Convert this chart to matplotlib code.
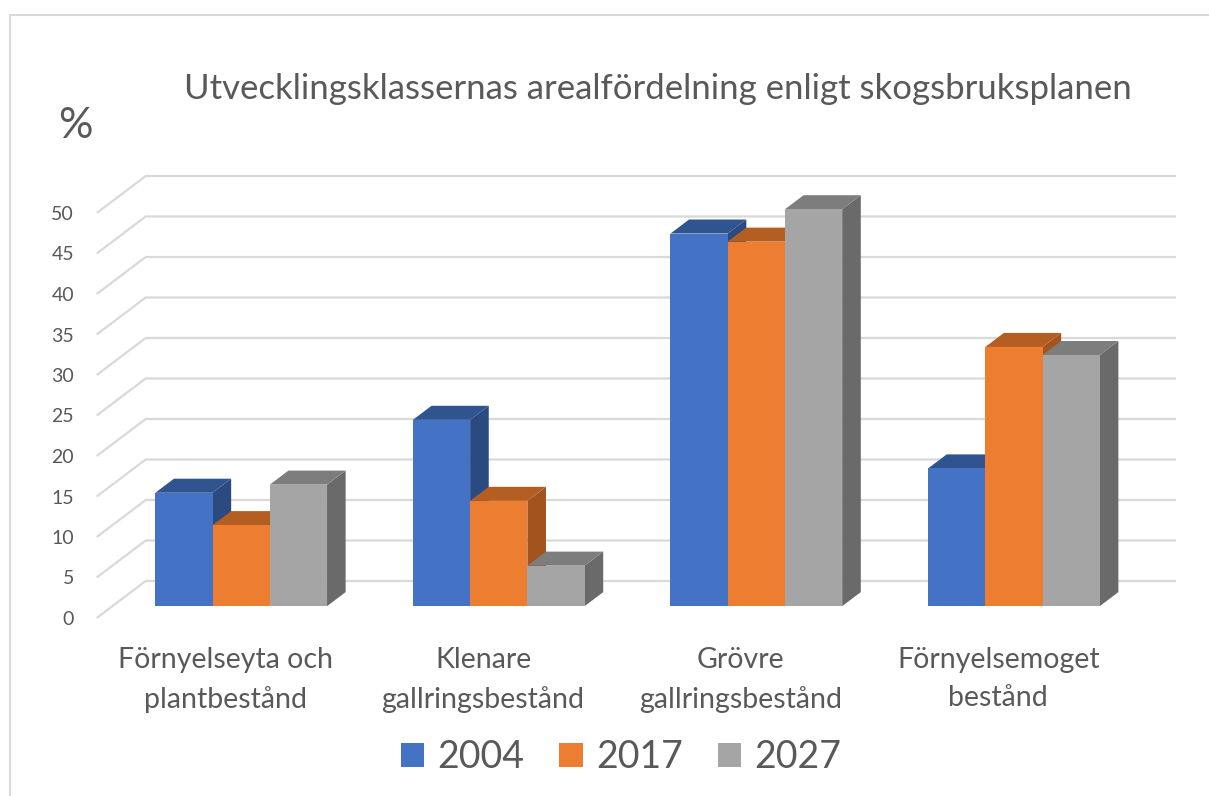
import matplotlib
matplotlib.use("Agg")
import matplotlib.pyplot as plt
from matplotlib.patches import Rectangle

plt.rcParams['font.family'] = ['Lato', 'DejaVu Sans']

# data
categories = ["Förnyelseyta och\nplantbestånd", "Klenare\ngallringsbestånd",
              "Grövre\ngallringsbestånd", "Förnyelsemoget\nbestånd"]
years = ["2004", "2017", "2027"]
v2004 = [14, 23, 46, 17]
v2017 = [10, 13, 45, 32]
v2027 = [15, 5, 49, 31]
yticks = list(range(0, 55, 5))

front_cols = ["#4472C4", "#ED7D31", "#A5A5A5"]
top_cols = ["#30548F", "#B55E22", "#7D7D7D"]
side_cols = ["#2A4A80", "#A3531D", "#6A6A6A"]
txt = "#595959"
grid = "#D9D9D9"

W, H = 1209, 796
fig = plt.figure(figsize=(W / 100, H / 100), dpi=100)

# axes: x = category units, y = value units on the front wall
x_px0, x_px1 = 96.7, 1127.0
y_px0, y_px50 = 618.0, 213.0
ax = fig.add_axes([x_px0 / W, 1 - y_px0 / H, (x_px1 - x_px0) / W, (y_px0 - y_px50) / H])
ax.set_xlim(0, 4)
ax.set_ylim(0, 50)
px_x = (x_px1 - x_px0) / 4
px_y = (y_px0 - y_px50) / 50

# depth of the plot box (oblique projection), in data units
Dx = 49 / px_x
Dy = 37 / px_y
d0, d1 = 0.32, 0.70   # bar depth range
w = 1 / 4.5           # gap width 150%

for s in ax.spines.values():
    s.set_visible(False)

# gridlines on side + back wall
for v in yticks:
    ax.plot([0, Dx, 4 + Dx], [v, v + Dy, v + Dy], color=grid, lw=1.6,
            zorder=1, clip_on=False, solid_capstyle='butt')

series = [v2004, v2017, v2027]
ddx = (d1 - d0) * Dx
ddy = (d1 - d0) * Dy
for j, vals in enumerate(series):
    xs = [i + 0.75 * w + j * w + d0 * Dx for i in range(4)]
    for xl, v in zip(xs, vals):
        xr = xl + w
        bot = d0 * Dy
        top = v + d0 * Dy
        ax.fill([xr, xr, xr + ddx, xr + ddx], [bot, top, top + ddy, bot + ddy],
                color=side_cols[j], lw=0, zorder=2 + 2 * j, clip_on=False)
        ax.fill([xl, xr, xr + ddx, xl + ddx], [top, top, top + ddy, top + ddy],
                color=top_cols[j], lw=0, zorder=2 + 2 * j, clip_on=False)
    ax.bar(xs, vals, width=w, bottom=d0 * Dy, align='edge', color=front_cols[j],
           label=years[j], zorder=3 + 2 * j, clip_on=False)

ax.set_yticks(yticks)
ax.set_yticklabels([str(t) for t in yticks])
ax.set_xticks([i + 0.5 for i in range(4)])
ax.set_xticklabels(categories, linespacing=1.58)
ax.tick_params(axis='y', length=0, pad=16.3, labelsize=14, labelcolor=txt)
ax.tick_params(axis='x', length=0, pad=21, labelsize=20.5, labelcolor=txt)

fig.text(657.5 / W, 1 - 99 / H, "Utvecklingsklassernas arealfördelning enligt skogsbruksplanen",
         ha='center', va='baseline', fontsize=25, color=txt)
fig.text(58 / W, 1 - 138 / H, "%", ha='left', va='baseline', fontsize=31, color=txt)

leg = fig.legend(loc='center', bbox_to_anchor=(621 / W, 1 - 757 / H), ncol=3,
                 frameon=False, fontsize=27, handlelength=0.62, handleheight=0.62,
                 handletextpad=0.35, columnspacing=0.93, borderpad=0)
for t in leg.get_texts():
    t.set_color(txt)

fig.add_artist(Rectangle((10 / W, -0.1), 1.2, 1 - 15 / H + 0.1, transform=fig.transFigure,
                         fill=False, edgecolor=grid, lw=1.5))

fig.savefig("out.png", dpi=100)
